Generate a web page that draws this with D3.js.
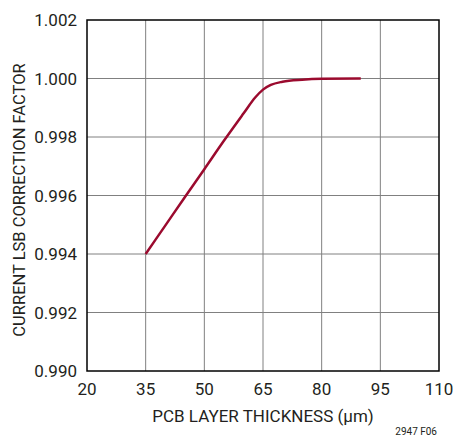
<!DOCTYPE html>
<html>
<head>
<meta charset="utf-8">
<script src="https://cdn.jsdelivr.net/npm/d3@7"></script>
<style>
body { margin: 0; background: #fff; }
text { font-family: "Liberation Sans Narrow", "Roboto", sans-serif; fill: #231f20; }
</style>
</head>
<body>
<svg id="chart" width="453" height="437"></svg>
<script>
// thickness (um) vs correction factor
var thickness = [35, 40, 45, 50, 55, 60, 63, 65, 67, 70, 75, 80, 90];
var factor = [0.9940, 0.99497, 0.99594, 0.99690, 0.99787, 0.99880, 0.99935, 0.99962, 0.99978, 0.99989, 0.99996, 0.99999, 1.0000];
var xTicks = [20, 35, 50, 65, 80, 95, 110];
var yTicks = [0.990, 0.992, 0.994, 0.996, 0.998, 1.000, 1.002];

var svg = d3.select('#chart');
var plotLeft = 87, plotRight = 439, plotTop = 20, plotBottom = 371;

var x = d3.scaleLinear().domain([20, 110]).range([plotLeft, plotRight]);
var y = d3.scaleLinear().domain([0.990, 1.002]).range([plotBottom, plotTop]);

// grid
svg.selectAll('.vgrid').data(xTicks.slice(1, -1)).enter().append('line')
    .attr('x1', d => x(d)).attr('x2', d => x(d))
    .attr('y1', plotTop).attr('y2', plotBottom)
    .attr('stroke', '#808080').attr('stroke-width', 1);
svg.selectAll('.hgrid').data(yTicks.slice(1, -1)).enter().append('line')
    .attr('x1', plotLeft).attr('x2', plotRight)
    .attr('y1', d => y(d)).attr('y2', d => y(d))
    .attr('stroke', '#808080').attr('stroke-width', 1);

// frame
svg.append('rect')
    .attr('x', plotLeft).attr('y', plotTop)
    .attr('width', plotRight - plotLeft).attr('height', plotBottom - plotTop)
    .attr('fill', 'none').attr('stroke', '#000').attr('stroke-width', 1.5);

// tick labels
svg.selectAll('.xl').data(xTicks).enter().append('text')
    .attr('x', d => x(d)).attr('y', 395)
    .attr('text-anchor', 'middle').attr('font-size', 17)
    .text(d => d);
svg.selectAll('.yl').data(yTicks).enter().append('text')
    .attr('x', 77).attr('y', d => y(d) + 6)
    .attr('text-anchor', 'end').attr('font-size', 17)
    .text(d => d3.format('.3f')(d));

// axis titles
svg.append('text')
    .attr('x', (plotLeft + plotRight) / 2).attr('y', 422)
    .attr('text-anchor', 'middle').attr('font-size', 17)
    .text('PCB LAYER THICKNESS (µm)');
svg.append('text')
    .attr('transform', 'translate(25,200) rotate(-90)')
    .attr('text-anchor', 'middle').attr('font-size', 16.5)
    .text('CURRENT LSB CORRECTION FACTOR');
svg.append('text')
    .attr('x', 437).attr('y', 435)
    .attr('text-anchor', 'end').attr('font-size', 10)
    .text('2947 F06');

// curve
var line = d3.line()
    .x((d, i) => x(thickness[i]))
    .y((d, i) => y(factor[i]))
    .curve(d3.curveMonotoneX);
svg.append('path')
    .datum(factor)
    .attr('d', line)
    .attr('fill', 'none')
    .attr('stroke', '#9b0a2e')
    .attr('stroke-width', 2.5);
</script>
</body>
</html>
